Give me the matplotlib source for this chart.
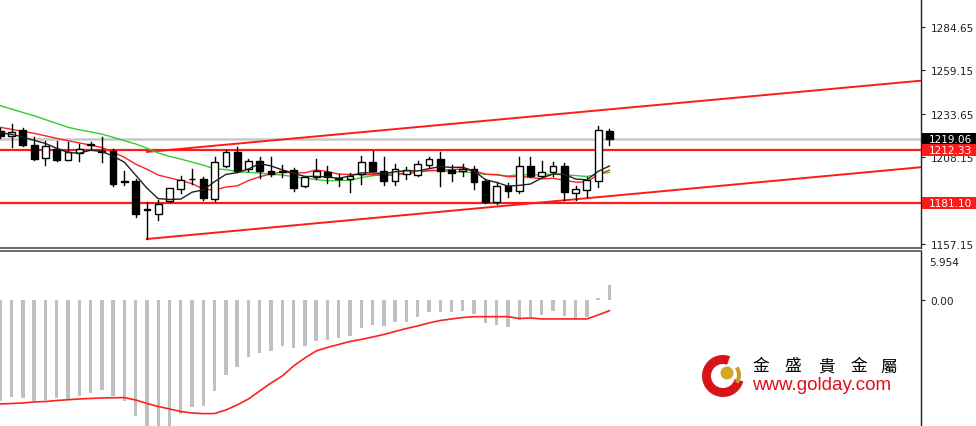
import numpy as np
import pandas as pd
import matplotlib
matplotlib.use("Agg")
import matplotlib.pyplot as plt
from matplotlib.patches import Rectangle, Circle, Wedge
from matplotlib.transforms import blended_transform_factory, Affine2D

# ---------------- data ----------------
opens = [1223.7, 1220.7, 1224.1, 1215.4, 1207.4, 1212.9, 1206.6, 1210.6, 1215.0, 1212.0,
         1211.6, 1194.0, 1194.3, 1177.0, 1174.7, 1182.2, 1189.4, 1195.5, 1195.3, 1183.5,
         1203.1, 1211.0, 1201.2, 1206.0, 1200.2, 1199.8, 1200.6, 1191.3, 1196.3, 1199.6,
         1195.3, 1195.3, 1198.2, 1205.1, 1199.8, 1193.9, 1198.2, 1197.8, 1203.7, 1207.0,
         1200.6, 1199.8, 1201.2, 1194.3, 1181.6, 1191.3, 1188.0, 1203.1, 1197.2, 1199.2,
         1203.1, 1187.0, 1188.8, 1193.9, 1223.7]
highs = [1225.5, 1227.6, 1225.1, 1219.8, 1217.8, 1217.8, 1216.8, 1215.9, 1217.2, 1219.8,
         1212.9, 1200.2, 1195.3, 1181.6, 1182.9, 1190.0, 1197.2, 1201.2, 1196.3, 1208.4,
         1212.3, 1214.3, 1207.0, 1208.0, 1208.0, 1203.7, 1201.5, 1197.0, 1207.0, 1203.1,
         1198.5, 1199.0, 1208.6, 1211.6, 1208.4, 1204.1, 1202.5, 1206.0, 1208.4, 1211.0,
         1203.7, 1204.0, 1203.1, 1195.3, 1193.3, 1192.7, 1208.0, 1208.4, 1206.0, 1205.1,
         1204.6, 1191.3, 1196.3, 1226.6, 1224.7]
lows = [1219.5, 1213.9, 1214.9, 1206.4, 1203.5, 1206.0, 1206.3, 1206.0, 1212.9, 1205.4,
        1191.3, 1191.9, 1172.7, 1160.0, 1171.2, 1181.6, 1186.9, 1192.3, 1182.9, 1182.5,
        1202.5, 1199.2, 1200.2, 1195.9, 1197.2, 1196.3, 1188.4, 1190.6, 1195.5, 1192.7,
        1191.3, 1187.8, 1192.3, 1199.2, 1191.9, 1191.9, 1195.3, 1196.8, 1201.7, 1191.3,
        1193.9, 1197.2, 1189.4, 1181.0, 1180.6, 1184.5, 1187.2, 1196.3, 1196.3, 1197.2,
        1182.9, 1182.9, 1184.9, 1190.4, 1215.4]
closes = [1220.7, 1223.1, 1215.3, 1207.0, 1214.9, 1206.4, 1211.0, 1212.9, 1215.9, 1211.3,
          1192.3, 1193.5, 1174.7, 1177.6, 1180.6, 1189.8, 1194.7, 1195.0, 1184.1, 1205.1,
          1211.0, 1199.8, 1206.0, 1199.8, 1198.2, 1199.5, 1190.0, 1196.3, 1200.2, 1196.3,
          1195.6, 1197.2, 1205.1, 1200.2, 1193.9, 1201.2, 1200.6, 1204.1, 1207.0, 1199.8,
          1199.0, 1201.0, 1193.3, 1181.6, 1191.3, 1188.4, 1203.1, 1197.2, 1199.2, 1203.1,
          1187.5, 1189.4, 1194.7, 1224.1, 1219.06]

# moving-average values before enough visible history exists
ma5_head = [1222.5, 1221.5, 1220.0, 1218.0]
ma10_head = [1225.7, 1224.5, 1223.3, 1222.1, 1220.7, 1219.2, 1217.8, 1216.5, 1215.2]
ma20_head = [1238.4, 1236.4, 1234.4, 1232.5, 1230.2, 1228.0, 1225.7, 1224.2, 1223.0, 1221.7,
             1219.8, 1217.8, 1215.9, 1213.4, 1210.6, 1208.6, 1207.0, 1205.2, 1203.4]

macd_hist = [-13.15, -12.63, -12.80, -13.15, -13.06, -12.80, -12.93, -12.58, -12.15, -11.76,
             -12.50, -13.23, -15.10, -17.0, -17.5, -17.2, -14.88, -14.01, -13.80, -11.85,
             -9.77, -8.80, -7.50, -6.98, -6.64, -5.99, -6.29, -5.99, -5.34, -5.25,
             -5.03, -4.69, -3.68, -3.29, -3.39, -2.86, -2.86, -2.21, -1.56, -1.64,
             -1.64, -1.51, -1.86, -3.03, -3.29, -3.52, -2.64, -2.29, -1.99, -1.43,
             -2.08, -2.42, -2.29, 0.25, 1.91]
macd_signal = [-13.58, -13.52, -13.45, -13.32, -13.26, -13.13, -13.03, -12.93, -12.86, -12.80,
               -12.77, -12.76, -13.06, -13.52, -13.91, -14.23, -14.56, -14.75, -14.84, -14.82,
               -14.36, -13.71, -12.93, -11.89, -10.85, -9.93, -8.63, -7.59, -6.68, -6.22,
               -5.83, -5.44, -5.18, -4.86, -4.53, -4.14, -3.75, -3.42, -3.03, -2.71,
               -2.51, -2.32, -2.21, -2.21, -2.21, -2.21, -2.45, -2.38, -2.51, -2.51,
               -2.51, -2.51, -2.51, -1.99, -1.43]

price_ticks = [1284.65, 1259.15, 1233.65, 1208.15, 1157.15]
support_price = 1181.10
resist_price = 1212.33
bid_price = 1219.06
# channel lines: (bar index, price) endpoints
lower_channel = [(13, 1160.0), (81.6, 1202.2)]
upper_channel = [(13, 1211.2), (81.6, 1253.1)]
macd_max_label = "5.954"

# ---------------- helpers ----------------
def sma(vals, n, head):
    s = pd.Series(vals).rolling(n).mean().to_numpy()
    s[:n - 1] = head
    return s

n = len(closes)
x = np.arange(n)
ma5 = sma(closes, 5, ma5_head)
ma10 = sma(closes, 10, ma10_head)
ma20 = sma(closes, 20, ma20_head)

W, H = 976, 427
plt.rcParams['font.family'] = ['DejaVu Sans']
fig = plt.figure(figsize=(W / 100, H / 100), dpi=100)

AX_RIGHT = 921
MAIN_BOTTOM = 249
SUB_TOP = 252
ax = fig.add_axes([0, 1 - MAIN_BOTTOM / H, AX_RIGHT / W, MAIN_BOTTOM / H])
ax2 = fig.add_axes([0, 0, AX_RIGHT / W, (H - SUB_TOP) / H])

LBL = 7.6
xmin, xmax = -0.027, 81.62
for a in (ax, ax2):
    a.set_xlim(xmin, xmax)
    a.set_facecolor('white')
    a.set_xticks([])
    a.spines['left'].set_visible(False)
    a.spines['right'].set_color('#202020')
    a.spines['right'].set_linewidth(1.0)
    a.yaxis.tick_right()
    a.tick_params(axis='y', direction='out', length=3, width=0.8, pad=4,
                  labelsize=LBL, colors='#202020')

ax.spines['top'].set_visible(False)
ax.spines['bottom'].set_color('#505050')
ax.spines['bottom'].set_linewidth(1.2)
ax2.spines['top'].set_color('#505050')
ax2.spines['top'].set_linewidth(1.2)
ax2.spines['bottom'].set_visible(False)

ax.set_ylim(1154.7, 1301.15)
ax.set_yticks(price_ticks)
ax.set_yticklabels([f"{t:.2f}" for t in price_ticks])

# horizontal lines
ax.axhline(bid_price, color='#c8c8c8', lw=1.8, zorder=1)
ax.axhline(resist_price, color='#ff1a1a', lw=1.6, zorder=2)
ax.axhline(support_price, color='#ff1a1a', lw=1.6, zorder=2)
# channel lines
for line in (lower_channel, upper_channel):
    ax.plot([line[0][0], line[1][0]], [line[0][1], line[1][1]], color='#ff1a1a', lw=1.4, zorder=2)

# moving averages
ax.plot(x, ma20, color='#33cc33', lw=1.0, zorder=3)
ax.plot(x, ma10, color='#ff2020', lw=1.0, zorder=3)

# candles
bw = 0.6
for i in range(n):
    o, h, l, c = opens[i], highs[i], lows[i], closes[i]
    ax.plot([i, i], [l, h], color='black', lw=1.0, zorder=4)
    bottom = min(o, c)
    height = max(abs(c - o), 0.35)
    face = 'white' if c >= o else 'black'
    ax.add_patch(Rectangle((i - bw / 2, bottom), bw, height, facecolor=face,
                           edgecolor='black', lw=1.0, zorder=5))

ax.plot(x, ma5, color='#202020', lw=1.0, zorder=6)

# price boxes at the right
bt = blended_transform_factory(fig.transFigure, ax.transData)
box_h = 12 / 1.70
for price, fc in ((bid_price, 'black'), (resist_price, '#ff1a1a'), (support_price, '#ff1a1a')):
    r = Rectangle((922 / W, price - box_h / 2), (W - 922) / W, box_h, transform=bt,
                  facecolor=fc, edgecolor='none', zorder=10)
    fig.add_artist(r)
    fig.text(929 / W, price, f"{price:.2f}", transform=bt, color='white',
             fontsize=LBL, va='center', ha='left', zorder=11)

# ---------------- MACD panel ----------------
ax2.set_ylim(-16.45, 6.34)
ax2.bar(x, macd_hist, width=0.3, color='#c0c0c0', zorder=2)
ax2.plot(x, macd_signal, color='#ff2020', lw=1.2, zorder=3)
ax2.set_yticks([0])
ax2.set_yticklabels(["0.00"])
fig.text(929 / W, 1 - 263 / H, macd_max_label, ha='left', va='center',
         fontsize=LBL, color='#202020')

# ---------------- logo ----------------
pix = Affine2D().scale(0.01, -0.01).translate(0, H / 100) + fig.dpi_scale_trans
fig.add_artist(Wedge((723, 377), 21, 15, 290, width=9, facecolor='#d7141a',
                     edgecolor='none', transform=pix, zorder=12))
fig.add_artist(Wedge((726, 376), 15, 325, 395, width=4, facecolor='#c89b2a',
                     edgecolor='none', transform=pix, zorder=12))
fig.add_artist(Circle((727, 374), 6.5, facecolor='#d4a62a', edgecolor='none',
                      transform=pix, zorder=12))

cn_chars = ["金", "盛", "貴", "金", "屬"]
cn_x = [761, 793, 826, 859, 889]
for ch, cx in zip(cn_chars, cn_x):
    fig.text(cx / W, 1 - 367 / H, ch, ha='center', va='center', fontsize=12,
             family=['Noto Sans CJK TC', 'DejaVu Sans'], color='black', zorder=12)
fig.text(752 / W, 1 - 386 / H, "www.golday.com", ha='left', va='center', fontsize=13.5,
         family=['Liberation Sans', 'DejaVu Sans'], color='#e0101a', zorder=12)

fig.savefig("out.png", dpi=100, facecolor='white')
